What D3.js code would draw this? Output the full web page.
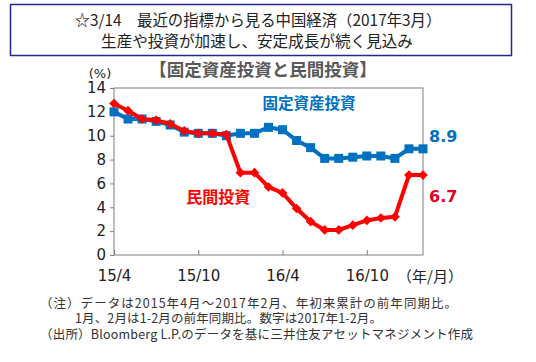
<!DOCTYPE html>
<html>
<head>
<meta charset="utf-8">
<script src="https://cdn.jsdelivr.net/npm/d3@7"></script>
<style>
body{margin:0;background:#fff;}
svg text{font-family:"Noto Sans CJK JP","Noto Sans",sans-serif;}
.num{font-family:"DejaVu Sans",sans-serif;}
</style>
</head>
<body>
<div id="plot"></div>
<script>
// data: ytd yoy %, 2015/4 - 2017/2 (Jan shown with the Jan-Feb value)
var months = ['15/4','15/5','15/6','15/7','15/8','15/9','15/10','15/11','15/12',
	'16/1','16/2','16/3','16/4','16/5','16/6','16/7','16/8','16/9','16/10','16/11','16/12',
	'17/1','17/2'];
var fixedInv = [12.0,11.4,11.4,11.2,10.9,10.3,10.2,10.2,10.0,
	10.2,10.2,10.7,10.5,9.6,9.0,8.1,8.1,8.2,8.3,8.3,8.1,
	8.9,8.9];
var privateInv = [12.7,12.1,11.4,11.3,11.0,10.4,10.2,10.2,10.1,
	6.9,6.9,5.7,5.2,3.9,2.8,2.1,2.1,2.5,2.9,3.1,3.2,
	6.7,6.7];
var yTicks = [0,2,4,6,8,10,12,14];
var xTickLabels = ['15/4','15/10','16/4','16/10'];

var W = 536, H = 362;
var m = {t:88,r:113,b:107,l:114},
	w = W - m.l - m.r,
	h = H - m.t - m.b;

var svg = d3.select('#plot').append('svg')
	.attr('width',W).attr('height',H);

//title box
svg.append('rect')
	.attr('x',10.5).attr('y',4.5).attr('width',501).attr('height',51)
	.attr('fill','none').attr('stroke','#1f2a8a').attr('stroke-width',1.5);
svg.append('text').attr('x',258).attr('y',25.5)
	.attr('text-anchor','middle').attr('font-size',15.4).attr('fill','#222')
	.text('☆3/14　最近の指標から見る中国経済（2017年3月）');
svg.append('text').attr('x',257).attr('y',47)
	.attr('text-anchor','middle').attr('font-size',15.6).attr('fill','#222')
	.text('生産や投資が加速し、安定成長が続く見込み');
svg.append('text').attr('x',263).attr('y',76)
	.attr('text-anchor','middle').attr('font-size',17.5).attr('font-weight','bold').attr('fill','#595959')
	.text('【固定資産投資と民間投資】');

var plot = svg.append('g').attr('transform','translate('+m.l+','+m.t+')');

var scaleX = d3.scaleLinear().domain([0,months.length-1]).range([0,w]),
	scaleY = d3.scaleLinear().domain([0,14]).range([h,0]);

//frame
plot.append('rect').attr('width',w).attr('height',h)
	.attr('fill','none').attr('stroke','#7f7f7f').attr('stroke-width',1);

var yAxis = d3.axisLeft(scaleY).tickValues(yTicks).tickSize(4).tickPadding(4);
var gy = plot.append('g').attr('class','axis-y').call(yAxis);
gy.select('.domain').remove();
gy.selectAll('line').attr('stroke','#7f7f7f');
gy.selectAll('text').attr('class','num').attr('font-size',15).attr('fill','#222');

var xTicks = xTickLabels.map(function(d){return months.indexOf(d)});
var xAxis = d3.axisBottom(scaleX).tickValues(xTicks).tickSize(-5).tickPadding(15)
	.tickFormat(function(d){return months[d]});
var gx = plot.append('g').attr('class','axis-x').attr('transform','translate(0,'+h+')').call(xAxis);
gx.select('.domain').remove();
gx.selectAll('line').attr('stroke','#7f7f7f');
gx.selectAll('text').attr('class','num').attr('font-size',15).attr('fill','#222');

svg.append('text').attr('class','num').attr('x',100).attr('y',78)
	.attr('text-anchor','middle').attr('font-size',13).attr('fill','#222').text('(%)');
svg.append('text').attr('x',430).attr('y',282)
	.attr('text-anchor','middle').attr('font-size',15).attr('fill','#222').text('（年/月）');

var line = d3.line()
	.x(function(d,i){return scaleX(i)})
	.y(function(d){return scaleY(d)});

var BLUE = '#0070c0', RED = '#ff0000';

//fixed asset investment
plot.append('path').datum(fixedInv)
	.attr('d',line).attr('fill','none').attr('stroke',BLUE).attr('stroke-width',4);
plot.selectAll('.sq').data(fixedInv).enter()
	.append('rect').attr('class','sq')
	.attr('x',function(d,i){return scaleX(i)-4.5})
	.attr('y',function(d){return scaleY(d)-4.5})
	.attr('width',9).attr('height',9).attr('fill',BLUE);

//private investment
plot.append('path').datum(privateInv)
	.attr('d',line).attr('fill','none').attr('stroke',RED).attr('stroke-width',4);
plot.selectAll('.dm').data(privateInv).enter()
	.append('path').attr('class','dm')
	.attr('d',d3.symbol().type(d3.symbolDiamond2).size(60))
	.attr('transform',function(d,i){return 'translate('+scaleX(i)+','+scaleY(d)+')'})
	.attr('fill',RED);

//labels
plot.append('text').attr('x',scaleX(11)-6).attr('y',scaleY(12.2))
	.attr('font-size',15.5).attr('font-weight','bold').attr('fill',BLUE).text('固定資産投資');
plot.append('text').attr('x',scaleX(6)-12).attr('y',scaleY(4.4))
	.attr('font-size',16).attr('font-weight','bold').attr('fill',RED).text('民間投資');
var last = months.length-1;
plot.append('text').attr('class','num').attr('x',scaleX(last)+6).attr('y',scaleY(fixedInv[last])-7)
	.attr('font-size',16).attr('font-weight','bold').attr('fill',BLUE).text(fixedInv[last].toFixed(1));
plot.append('text').attr('class','num').attr('x',scaleX(last)+6).attr('y',scaleY(privateInv[last])+27)
	.attr('font-size',16).attr('font-weight','bold').attr('fill','#e0002a').text(privateInv[last].toFixed(1));

//notes, one text block with a line per tspan
var notes = [
	{x:40,y:307.5,len:417,t:'（注）データは2015年4月～2017年2月、年初来累計の前年同期比。'},
	{x:75,y:323,len:307,t:'1月、2月は1-2月の前年同期比。数字は2017年1-2月。'},
	{x:40,y:338.5,len:433,t:'（出所）Bloomberg L.P.のデータを基に三井住友アセットマネジメント作成'}
];
svg.append('text').attr('class','notes')
	.attr('font-size',12.5).attr('fill','#333')
	.selectAll('tspan').data(notes).enter()
	.append('tspan')
	.attr('x',function(d){return d.x}).attr('y',function(d){return d.y})
	.attr('textLength',function(d){return d.len}).attr('lengthAdjust','spacing')
	.text(function(d){return d.t});
</script>
</body>
</html>
